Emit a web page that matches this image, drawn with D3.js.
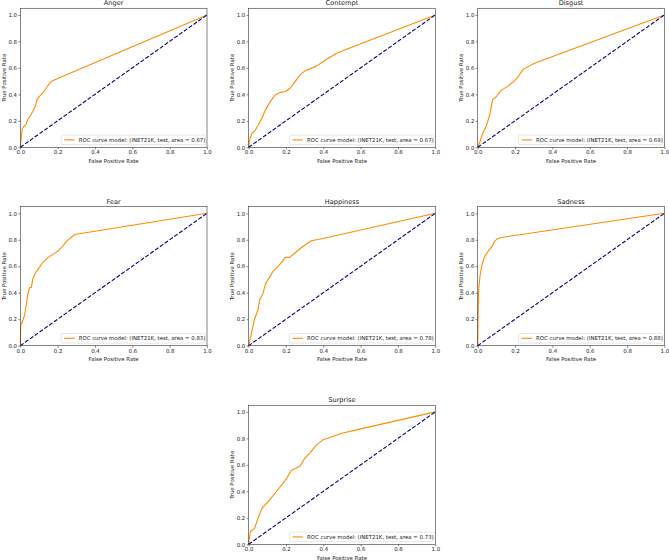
<!DOCTYPE html>
<html><head><meta charset="utf-8">
<script src="https://cdn.jsdelivr.net/npm/d3@7"></script>
<style>body{margin:0;background:#fff}svg{display:block}text{font-family:"DejaVu Sans",sans-serif;fill:#222}</style>
</head><body><svg id="c" width="669" height="560"></svg>
<script>
const categories = ["Anger","Contempt","Disgust","Fear","Happiness","Sadness","Surprise"];
const areas = [0.67,0.67,0.69,0.83,0.78,0.88,0.73];
const tickValues = [0,0.2,0.4,0.6,0.8,1.0];
const angerRoc = [[0,0],[0.005,0.08],[0.01,0.14],[0.02,0.16],[0.03,0.17],[0.04,0.21],[0.055,0.24],[0.07,0.28],[0.08,0.31],[0.09,0.36],[0.1,0.38],[0.12,0.41],[0.14,0.45],[0.16,0.49],[0.17,0.50],[0.2,0.52],[1,1]];
const contemptRoc = [[0,0],[0.005,0.055],[0.018,0.106],[0.036,0.13],[0.053,0.17],[0.071,0.22],[0.089,0.28],[0.116,0.345],[0.142,0.395],[0.169,0.415],[0.196,0.42],[0.222,0.446],[0.249,0.496],[0.276,0.547],[0.302,0.577],[0.365,0.615],[0.418,0.665],[0.472,0.71],[0.525,0.74],[1,1]];
const disgustRoc = [[0,0],[0.009,0.03],[0.027,0.106],[0.045,0.156],[0.059,0.22],[0.068,0.27],[0.08,0.36],[0.098,0.38],[0.125,0.43],[0.16,0.46],[0.196,0.50],[0.22,0.54],[0.241,0.585],[0.277,0.615],[0.304,0.635],[1,1]];
const fearRoc = [[0,0],[0.002,0.156],[0.011,0.18],[0.023,0.23],[0.032,0.31],[0.041,0.395],[0.05,0.44],[0.059,0.44],[0.068,0.51],[0.086,0.56],[0.104,0.595],[0.121,0.63],[0.148,0.665],[0.175,0.69],[0.202,0.715],[0.22,0.74],[0.246,0.786],[0.291,0.84],[1,1]];
const happinessRoc = [[0,0],[0.009,0.055],[0.02,0.126],[0.032,0.2],[0.05,0.27],[0.059,0.345],[0.077,0.395],[0.091,0.47],[0.113,0.52],[0.13,0.56],[0.157,0.597],[0.18,0.635],[0.196,0.667],[0.22,0.667],[0.246,0.698],[0.282,0.74],[0.336,0.793],[0.398,0.81],[1,1]];
const sadnessRoc = [[0,0],[0.002,0.2],[0.005,0.42],[0.0125,0.53],[0.023,0.61],[0.036,0.67],[0.054,0.71],[0.077,0.75],[0.089,0.786],[0.107,0.81],[0.134,0.819],[1,1]];
const surpriseRoc = [[0,0],[0.009,0.095],[0.032,0.12],[0.05,0.196],[0.073,0.276],[0.104,0.32],[0.148,0.397],[0.184,0.46],[0.205,0.5],[0.229,0.56],[0.252,0.573],[0.277,0.593],[0.3,0.648],[0.33,0.693],[0.363,0.749],[0.398,0.789],[0.443,0.81],[0.505,0.84],[0.577,0.864],[1,1]];
const rocs = [angerRoc,contemptRoc,disgustRoc,fearRoc,happinessRoc,sadnessRoc,surpriseRoc];
const diagonal = [[0,0],[1,1]];
const xDomain = [0,1], yDomain = [0,1.05];

const svg = d3.select("#c");
const colLeft = [20.3, 248.6, 477.7];
const rowBottom = [147.3, 345.7, 544.3];
const W = 186.7, unitH = 132.4, H = unitH * yDomain[1];
const cells = [[0,0],[0,1],[0,2],[1,0],[1,1],[1,2],[2,1]];
const fs = 5.4;

categories.forEach((name, i) => {
  const [r, c] = cells[i];
  const g = svg.append("g").attr("transform", `translate(${colLeft[c]},${rowBottom[r]-H})`);
  const x = d3.scaleLinear().domain(xDomain).range([0,W]);
  const y = d3.scaleLinear().domain(yDomain).range([H,0]);
  const line = d3.line().x(d=>x(d[0])).y(d=>y(d[1]));

  const xa = g.append("g").attr("transform",`translate(0,${H})`)
    .call(d3.axisBottom(x).tickValues(tickValues).tickFormat(d3.format(".1f")).tickSize(2).tickPadding(1.3));
  const ya = g.append("g")
    .call(d3.axisLeft(y).tickValues(tickValues).tickFormat(d3.format(".1f")).tickSize(2).tickPadding(1.3));
  [xa, ya].forEach(a => {
    a.select(".domain").remove();
    a.selectAll("line").attr("stroke","#333").attr("stroke-width",0.6);
    a.selectAll("text").attr("font-size",fs).attr("font-family","DejaVu Sans").attr("fill","#222");
  });

  g.append("path").datum(rocs[i]).attr("d",line).attr("fill","none")
    .attr("stroke","darkorange").attr("stroke-width",1.1).attr("stroke-linejoin","round");
  g.append("path").datum(diagonal).attr("d",line).attr("fill","none")
    .attr("stroke","navy").attr("stroke-width",1.1).attr("stroke-dasharray","4.1,1.8");

  g.append("rect").attr("x",0).attr("y",0).attr("width",W).attr("height",H)
    .attr("fill","none").attr("stroke","#333").attr("stroke-width",0.6);

  g.append("text").attr("x",W/2).attr("y",-3).attr("text-anchor","middle")
    .attr("font-size",6.6).text(name);
  g.append("text").attr("x",W/2).attr("y",H+15.4).attr("text-anchor","middle")
    .attr("font-size",fs).text("False Positive Rate");
  g.append("text").attr("transform",`translate(-14.6,${H/2}) rotate(-90)`).attr("text-anchor","middle")
    .attr("font-size",fs).text("True Positive Rate");

  // legend
  const label = `ROC curve model: (INET21K, test, area = ${areas[i].toFixed(2)})`;
  const lg = g.append("g");
  const bw = 144, bh = 9.6;
  const bx = W - 1.8 - bw, by = H - 2.6 - bh;
  lg.append("rect").attr("x",bx).attr("y",by).attr("width",bw).attr("height",bh).attr("rx",1.2)
    .attr("fill","#fff").attr("fill-opacity",0.8).attr("stroke","#ccc").attr("stroke-width",0.5);
  lg.append("line").attr("x1",bx+3).attr("x2",bx+13.5).attr("y1",by+bh/2).attr("y2",by+bh/2)
    .attr("stroke","darkorange").attr("stroke-width",1.1);
  lg.append("text").attr("x",bx+17.5).attr("y",by+bh/2).attr("dy","0.35em")
    .attr("font-size",fs).text(label);
});
</script></body></html>
